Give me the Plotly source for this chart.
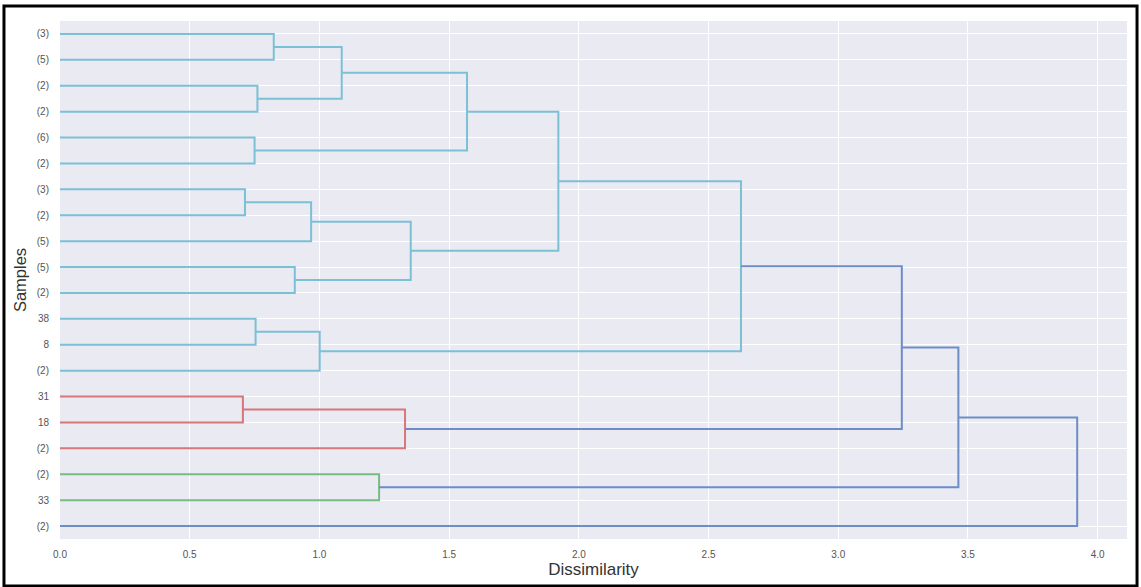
import plotly.graph_objects as go

# Leaf labels, top to bottom
leaf_labels = ["(3)", "(5)", "(2)", "(2)", "(6)", "(2)", "(3)", "(2)", "(5)", "(5)",
               "(2)", "38", "8", "(2)", "31", "18", "(2)", "(2)", "33", "(2)"]

# Merge steps: left child id, right child id (ids < 20 are leaves, new clusters get 20, 21, ...)
merge_left = [0, 2, 20, 4, 22, 6, 25, 9, 26, 24, 11, 30, 29, 14, 33, 32, 17, 35, 37]
merge_right = [1, 3, 21, 5, 23, 7, 8, 10, 27, 28, 12, 13, 31, 15, 16, 34, 18, 36, 19]
merge_height = [0.824, 0.761, 1.086, 0.750, 1.569, 0.713, 0.968, 0.905, 1.352, 1.921,
                0.754, 1.001, 2.625, 0.705, 1.330, 3.245, 1.230, 3.463, 3.921]
merge_group = ["c", "c", "c", "c", "c", "c", "c", "c", "c", "c",
               "c", "c", "c", "r", "r", "b", "g", "b", "b"]

group_colors = {"c": "#7cc0d6", "r": "#d6777b", "g": "#78bc84", "b": "#6e8dc6"}

n = len(leaf_labels)
pos = {i: float(i) for i in range(n)}
hgt = {i: 0.0 for i in range(n)}
segs = {k: ([], []) for k in group_colors}
for k, (a, b, h, g) in enumerate(zip(merge_left, merge_right, merge_height, merge_group)):
    cid = n + k
    xs, ys = segs[g]
    xs += [hgt[a], h, h, hgt[b], None]
    ys += [pos[a], pos[a], pos[b], pos[b], None]
    pos[cid] = (pos[a] + pos[b]) / 2
    hgt[cid] = h

fig = go.Figure()
for g in ["c", "r", "g", "b"]:
    xs, ys = segs[g]
    fig.add_trace(go.Scatter(x=xs, y=ys, mode="lines",
                             line=dict(color=group_colors[g], width=2),
                             hoverinfo="skip", showlegend=False))

fig.update_layout(
    width=1141, height=587,
    margin=dict(l=60, r=14, t=21, b=48),
    paper_bgcolor="white",
    plot_bgcolor="#EAEAF2",
    font=dict(family="Liberation Sans, Arial, sans-serif"),
    showlegend=False,
)
fig.update_xaxes(
    range=[0, 4.113],
    tickvals=[0, 0.5, 1.0, 1.5, 2.0, 2.5, 3.0, 3.5, 4.0],
    ticktext=["0.0", "0.5", "1.0", "1.5", "2.0", "2.5", "3.0", "3.5", "4.0"],
    showgrid=True, gridcolor="white", gridwidth=1.3,
    zeroline=False, showline=False, ticks="",
    tickfont=dict(size=10, color="#555555"),
    ticklabelstandoff=8,
    title=dict(text="Dissimilarity", font=dict(size=17, color="#333333"), standoff=4),
)
fig.update_yaxes(
    range=[n - 0.5, -0.5],
    tickvals=list(range(n)),
    ticktext=leaf_labels,
    showgrid=True, gridcolor="white", gridwidth=1.3,
    zeroline=False, showline=False, ticks="",
    tickfont=dict(size=10, color="#555555"),
    ticklabelstandoff=10,
    title=dict(text="Samples", font=dict(size=16.5, color="#333333"), standoff=5),
)

# outer black frame around the whole image
fig.add_shape(type="rect", xref="paper", yref="paper",
              x0=-0.0525, x1=1.0094, y0=-0.0907, y1=1.029,
              line=dict(color="black", width=3), fillcolor="rgba(0,0,0,0)", layer="above")

fig.write_html("out.html", config={"displayModeBar": False},
               post_script="document.body.style.margin='0px';")
